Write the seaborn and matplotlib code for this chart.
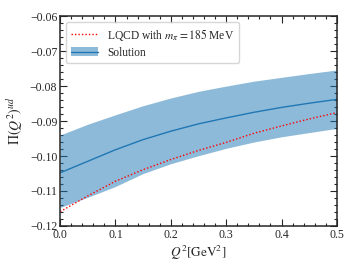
"""Hadronic vacuum polarisation Pi(Q^2)^ud: LQCD points vs. solution band."""

import matplotlib

matplotlib.use("Agg")
import matplotlib.pyplot as plt
import numpy as np
import pandas as pd
import seaborn as sns
from matplotlib.ticker import MultipleLocator

# values
q2 = [0.0, 0.05, 0.10, 0.15, 0.20, 0.25, 0.30, 0.35, 0.40, 0.45, 0.50]
solution = [-0.1048, -0.1015, -0.0982, -0.0953, -0.0929, -0.0908,
            -0.0891, -0.0875, -0.0861, -0.0849, -0.0838]
solution_upper = [-0.0940, -0.0909, -0.0882, -0.0856, -0.0834, -0.0815,
                  -0.0800, -0.0786, -0.0775, -0.0764, -0.0754]
solution_lower = [-0.1147, -0.1118, -0.1087, -0.1050, -0.1022, -0.0999,
                  -0.0978, -0.0960, -0.0945, -0.0933, -0.0921]
lqcd = [-0.1159, -0.1114, -0.1072, -0.1039, -0.1010, -0.0984,
        -0.0961, -0.0935, -0.0914, -0.0894, -0.0876]

df = pd.DataFrame({"Q2": q2, "solution": solution, "lqcd": lqcd})

sns.set_style("ticks")
plt.rcParams["font.family"] = ["Liberation Serif", "DejaVu Serif"]
plt.rcParams["mathtext.fontset"] = "stix"

fig = plt.figure(figsize=(3.58, 2.69), dpi=100)
ax = fig.add_axes([0.168, 0.160, 0.773, 0.780])

ax.fill_between(q2, solution_lower, solution_upper, color="#1f77b4",
                alpha=0.5, linewidth=0)
sns.lineplot(data=df, x="Q2", y="solution", ax=ax, color="#1f77b4", lw=1.0)
sns.lineplot(data=df, x="Q2", y="lqcd", ax=ax, color="red", lw=1.0,
             linestyle=(0, (1, 1.5)))

ax.set_xlim(0, 0.5)
ax.set_ylim(-0.12, -0.06)
ax.xaxis.set_major_locator(MultipleLocator(0.1))
ax.xaxis.set_minor_locator(MultipleLocator(0.02))
ax.yaxis.set_major_locator(MultipleLocator(0.01))
ax.yaxis.set_minor_locator(MultipleLocator(0.002))
ax.tick_params(which="both", direction="in", top=True, right=True,
               labelsize=8.5, width=0.8, pad=2)
ax.tick_params(which="major", length=5)
ax.tick_params(which="minor", length=2.5)
for sp in ax.spines.values():
    sp.set_linewidth(1.1)

ax.set_xlabel(r"$Q^2[\mathrm{GeV}^2]$", fontsize=9.5, labelpad=2)
ax.set_ylabel(r"$\Pi(Q^2)^{ud}$", fontsize=10, labelpad=3)

handles = [
    plt.Line2D([], [], color="red", lw=1.0, linestyle=(0, (1, 1.5))),
    (plt.Rectangle((0, 0), 1, 1, color="#1f77b4", alpha=0.5, lw=0),
     plt.Line2D([], [], color="#1f77b4", lw=1.0)),
]
labels = [r"LQCD with $m_\pi = 185$ MeV", "Solution"]
ax.legend(handles, labels, loc="upper left", fontsize=8.3, frameon=True,
          handlelength=2.4, borderpad=0.4, labelspacing=0.35,
          handletextpad=0.8)

fig.savefig("out.png", dpi=100)
